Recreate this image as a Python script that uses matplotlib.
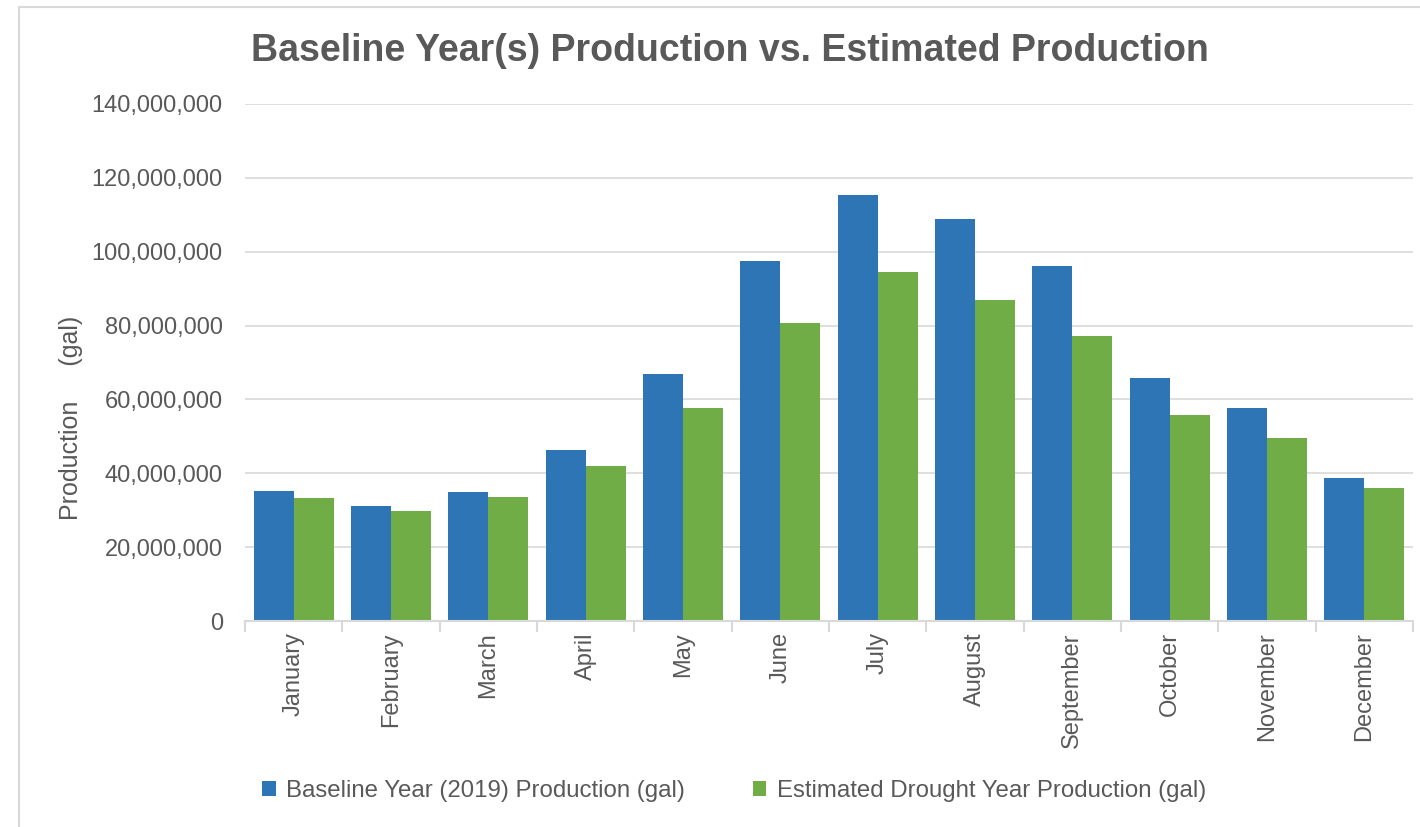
import matplotlib.pyplot as plt
import matplotlib.ticker as mticker
from matplotlib.patches import Rectangle
import numpy as np

plt.rcParams['font.family'] = ['Liberation Sans', 'DejaVu Sans']

months = ["January", "February", "March", "April", "May", "June",
          "July", "August", "September", "October", "November", "December"]
baseline = [35.2e6, 31.1e6, 35.0e6, 46.3e6, 66.9e6, 97.5e6,
            115.4e6, 108.9e6, 96.1e6, 65.8e6, 57.7e6, 38.7e6]
drought = [33.3e6, 29.8e6, 33.5e6, 42.0e6, 57.7e6, 80.6e6,
           94.5e6, 86.9e6, 77.2e6, 55.7e6, 49.5e6, 36.0e6]

blue = "#2E75B6"
green = "#70AD47"
txt = "#595959"
grid = "#D9D9D9"

fig = plt.figure(figsize=(14.2, 8.27), dpi=100)
# outer chart border (cut off at right and bottom like the screenshot)
fig.patches.append(Rectangle((19 / 1420, -0.1), 1.2, 1.1 - 7 / 827,
                             transform=fig.transFigure, fill=False,
                             edgecolor=grid, linewidth=1.5))

ax = fig.add_axes([245 / 1420, 1 - 621 / 827, 1168 / 1420, 517 / 827])

x = np.arange(len(months))
w = 0.41
ax.bar(x - w / 2, baseline, w, color=blue, label="Baseline Year (2019) Production (gal)")
ax.bar(x + w / 2, drought, w, color=green, label="Estimated Drought Year Production (gal)")

ax.set_xlim(-0.5, len(months) - 0.5)
ax.set_ylim(0, 140e6)
ax.yaxis.set_major_locator(mticker.MultipleLocator(20e6))
ax.yaxis.set_major_formatter(mticker.FuncFormatter(lambda v, p: f"{v:,.0f}"))
ax.grid(axis='y', color=grid, linewidth=1.2)
ax.set_axisbelow(True)

for s in ["top", "right", "left"]:
    ax.spines[s].set_visible(False)
ax.spines["bottom"].set_color(grid)
ax.spines["bottom"].set_linewidth(1.5)

ax.set_xticks(x)
ax.set_xticklabels(months, rotation=90, fontsize=17, color=txt)
ax.tick_params(axis='x', which='major', length=0, pad=8)
ax.set_xticks(np.arange(-0.5, len(months)), minor=True)
ax.tick_params(axis='x', which='minor', length=8, color=grid, width=1.5)
ax.tick_params(axis='y', length=0, labelsize=17, labelcolor=txt, pad=16)

ax.set_ylabel("Production     (gal)", fontsize=18, color=txt)
ax.yaxis.set_label_coords(-0.139, 0.393)

fig.text(0.514, 1 - 51 / 827, "Baseline Year(s) Production vs. Estimated Production",
         ha='center', va='center', fontsize=27, fontweight='bold', color=txt)

fig.legend(loc='center', bbox_to_anchor=(0.517, 1 - 791 / 827), ncol=2,
           frameon=False, fontsize=17.3, labelcolor=txt, handlelength=0.55,
           handleheight=0.6, handletextpad=0.45, columnspacing=2.8)

fig.savefig("out.png", dpi=100)
